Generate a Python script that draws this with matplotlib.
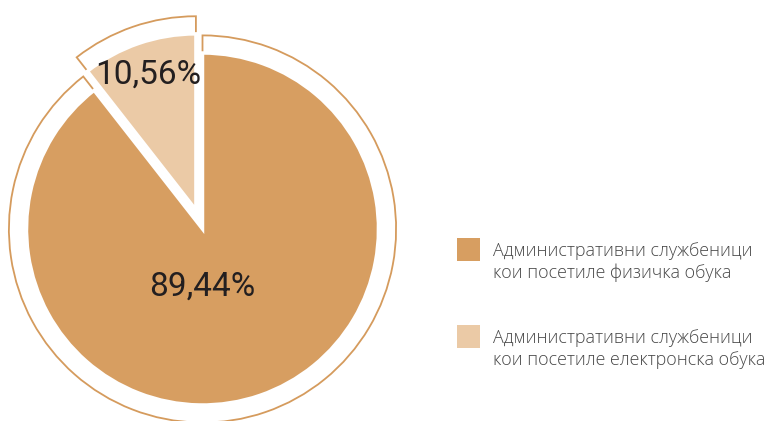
import matplotlib.pyplot as plt
from matplotlib.patches import Rectangle

# data
shares = [89.44, 10.56]
share_labels = ["89,44%", "10,56%"]
legend_labels = [
    "Административни службеници\nкои посетиле физичка обука",
    "Административни службеници\nкои посетиле електронска обука",
]
colors = ["#D79E61", "#EBCAA6"]
outline_color = "#D59B5D"

W, H = 773, 421
R_PX = 176.0
CX, CY = 202.5, 229.0

fig = plt.figure(figsize=(W / 100, H / 100), dpi=100)
ax = fig.add_axes([0, 0, 1, 1])

explode = [0.0, 0.115]

# outer outline ring of each slice
ax.pie(shares, explode=explode, radius=1.1, startangle=90, counterclock=False,
       colors=["white", "white"],
       wedgeprops=dict(edgecolor=outline_color, linewidth=1.3))
# filled slices
wedges, _ = ax.pie(shares, explode=explode, radius=1.0, startangle=90, counterclock=False,
                   colors=colors,
                   wedgeprops=dict(edgecolor="white", linewidth=2.5))

# pie() resets the limits, so set them afterwards
ax.set_xlim(-CX / R_PX, (W - CX) / R_PX)
ax.set_ylim((CY - H) / R_PX, CY / R_PX)
ax.set_aspect("equal")
ax.axis("off")

# percentage labels
ax.text(0.0, -0.33, share_labels[0], ha="center", va="center",
        fontsize=24, family="Roboto", color="#231F20")
ax.text(-0.31, 0.875, share_labels[1], ha="center", va="center",
        fontsize=24, family="Roboto", color="#231F20")

# legend
entries = [(238, 262), (325, 349)]
for (sq_top, txt_mid), label, color in zip(entries, legend_labels, colors):
    fig.patches.append(Rectangle((457 / W, 1 - (sq_top + 23) / H), 23 / W, 23 / H,
                                 transform=fig.transFigure, facecolor=color,
                                 edgecolor="none", zorder=5))
    fig.text(493 / W, 1 - txt_mid / H, label, ha="left", va="center",
             fontsize=12.9, family="Open Sans", fontweight="light",
             color="#474747", linespacing=1.3)

fig.savefig("out.png", dpi=100)
